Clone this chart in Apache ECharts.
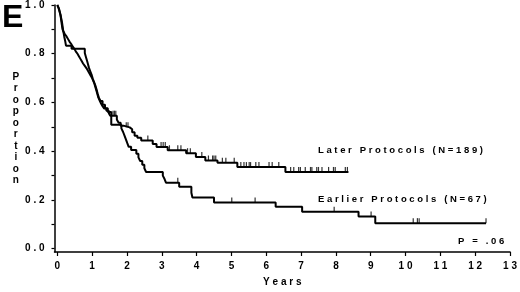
<!DOCTYPE html>
<html><head><meta charset="utf-8">
<script src="https://cdn.jsdelivr.net/npm/echarts@6/dist/echarts.min.js"></script>
<style>html,body{margin:0;padding:0;background:#fff}#c{width:520px;height:292px}</style>
</head><body><div id="c"></div>
<script>
// Later Protocols (N=189): event times (years) and survival after each step
const laterTimes = [0, 0.03, 0.06, 0.09, 0.11, 0.13, 0.15, 0.18, 0.22, 0.27, 0.31, 0.35, 0.40, 0.44, 0.49, 0.53, 0.58, 0.62, 0.66, 0.70, 0.74, 0.79, 0.84, 0.88, 0.92, 0.96, 1.00, 1.03, 1.06, 1.09, 1.12, 1.15, 1.18, 1.22, 1.26, 1.30, 1.35, 1.41, 1.48, 1.52, 1.71, 1.76, 1.82, 1.90, 2.08, 2.15, 2.22, 2.30, 2.41, 2.74, 2.85, 3.17, 3.70, 3.98, 4.25, 4.60, 5.17, 6.55, 8.36];
const laterSurv  = [1.0, 0.99, 0.975, 0.96, 0.94, 0.92, 0.90, 0.89, 0.88, 0.87, 0.86, 0.85, 0.84, 0.83, 0.82, 0.81, 0.80, 0.79, 0.78, 0.77, 0.76, 0.75, 0.74, 0.73, 0.72, 0.71, 0.70, 0.69, 0.68, 0.665, 0.65, 0.635, 0.62, 0.607, 0.595, 0.585, 0.575, 0.566, 0.556, 0.546, 0.53, 0.517, 0.505, 0.498, 0.49, 0.478, 0.464, 0.455, 0.444, 0.43, 0.417, 0.404, 0.392, 0.376, 0.362, 0.353, 0.335, 0.315, 0.315];
const laterCensor = [1.60, 1.64, 1.68, 1.98, 2.03, 2.60, 2.98, 3.04, 3.10, 3.22, 3.46, 3.55, 3.74, 3.82, 4.15, 4.34, 4.46, 4.50, 4.55, 4.74, 4.84, 5.08, 5.27, 5.36, 5.43, 5.51, 5.55, 5.70, 5.79, 6.08, 6.17, 6.36, 6.70, 6.79, 6.93, 6.98, 7.12, 7.27, 7.31, 7.45, 7.50, 7.60, 7.79, 7.93, 7.98, 8.27, 8.33];

// Earlier Protocols (N=67)
const earlierTimes = [0, 0.05, 0.10, 0.14, 0.17, 0.20, 0.23, 0.25, 0.41, 0.79, 0.82, 0.85, 0.88, 0.91, 0.95, 0.99, 1.02, 1.06, 1.10, 1.13, 1.16, 1.19, 1.24, 1.30, 1.37, 1.45, 1.55, 1.84, 1.89, 1.93, 1.97, 2.01, 2.05, 2.12, 2.27, 2.33, 2.38, 2.44, 2.50, 2.55, 3.03, 3.08, 3.12, 3.50, 3.85, 3.88, 4.50, 6.27, 7.03, 8.65, 9.13, 12.31];
const earlierSurv  = [1.0, 0.985, 0.955, 0.925, 0.895, 0.87, 0.85, 0.833, 0.82, 0.803, 0.788, 0.773, 0.758, 0.742, 0.727, 0.712, 0.697, 0.682, 0.667, 0.652, 0.636, 0.621, 0.606, 0.591, 0.576, 0.561, 0.509, 0.494, 0.479, 0.464, 0.449, 0.433, 0.418, 0.405, 0.39, 0.375, 0.36, 0.345, 0.33, 0.315, 0.30, 0.286, 0.271, 0.254, 0.23, 0.21, 0.19, 0.172, 0.152, 0.132, 0.105, 0.105];
const earlierCensor = [3.46, 5.01, 5.68, 7.95, 9.01, 10.22, 10.34, 10.39, 12.31];

const xTicks = [0,1,2,3,4,5,6,7,8,9,10,11,12,13];
const yTicks = [0,0.1,0.2,0.3,0.4,0.5,0.6,0.7,0.8,0.9,1.0];
const yLabels = [0,0.2,0.4,0.6,0.8,1.0];

const laterLabel = 'Later Protocols (N=189)';
const earlierLabel = 'Earlier Protocols (N=67)';
const pLabel = 'P = .06';

function pairs(t, s){ return t.map((v,i)=>[v, s[i]]); }
function survAt(t, s, x){ let v = s[0]; for(let i=0;i<t.length;i++){ if(t[i] <= x) v = s[i]; } return v; }
function censorPts(c, t, s){ return c.map(x => [x, survAt(t, s, x)]); }
function spaced(str){ return str.split('').join(' '); }

const FONT = 'Liberation Sans';
const chart = echarts.init(document.getElementById('c'), null, {renderer:'canvas'});
const lineStyle = {color:'#000', width:2};
const censorStyle = {type:'scatter', symbol:'rect', symbolSize:[1.2,5], symbolOffset:[0,'-50%'], itemStyle:{color:'#000'}, silent:true, z:3};
const txt = {fontFamily:FONT, fontWeight:'bold', fontSize:9.5, fill:'#000'};

chart.setOption({
  animation:false,
  backgroundColor:'#fff',
  title:{text:'E', left:-3, top:-3, textStyle:{fontFamily:FONT, fontWeight:900, fontSize:32, color:'#000'}},
  grid:{left:54.5, right:7, top:5, bottom:38, containLabel:false},
  xAxis:{type:'value', min:-0.08, max:13,
    name:spaced('Years'), nameLocation:'middle', nameGap:25,
    nameTextStyle:{fontFamily:FONT, fontWeight:'bold', fontSize:10, color:'#000'},
    axisLine:{onZero:false, lineStyle:{color:'#000', width:1.5}},
    axisTick:{customValues:xTicks, length:4, lineStyle:{color:'#000', width:1.2}},
    axisLabel:{customValues:xTicks, margin:9, color:'#000', fontFamily:FONT, fontWeight:'bold', fontSize:10,
      formatter:v=>spaced(String(v))},
    splitLine:{show:false}},
  yAxis:{type:'value', min:-0.0134, max:1.0,
    name:'P\nr\no\np\no\nr\nt\ni\no\nn', nameLocation:'middle', nameRotate:0, nameGap:38,
    nameTextStyle:{fontFamily:FONT, fontWeight:'bold', fontSize:10, color:'#000', lineHeight:11.5, align:'center', verticalAlign:'middle'},
    axisLine:{onZero:false, lineStyle:{color:'#000', width:1.5}},
    axisTick:{customValues:yTicks, length:3, lineStyle:{color:'#000', width:1.2}},
    axisLabel:{customValues:yLabels, margin:10, color:'#000', fontFamily:FONT, fontWeight:'bold', fontSize:10,
      formatter:v=>spaced(v.toFixed(1))},
    splitLine:{show:false}},
  graphic:[
    {type:'text', left:318, top:145, style:Object.assign({text:spaced(laterLabel)}, txt)},
    {type:'text', left:318, top:194, style:Object.assign({text:spaced(earlierLabel)}, txt)},
    {type:'text', left:458, top:236, style:Object.assign({text:spaced(pLabel)}, txt)}
  ],
  series:[
    {type:'line', step:'end', data:pairs(laterTimes, laterSurv), showSymbol:false, lineStyle:lineStyle, z:2},
    {type:'line', step:'end', data:pairs(earlierTimes, earlierSurv), showSymbol:false, lineStyle:lineStyle, z:2},
    Object.assign({data:censorPts(laterCensor, laterTimes, laterSurv)}, censorStyle),
    Object.assign({data:censorPts(earlierCensor, earlierTimes, earlierSurv)}, censorStyle)
  ]
});
</script></body></html>
